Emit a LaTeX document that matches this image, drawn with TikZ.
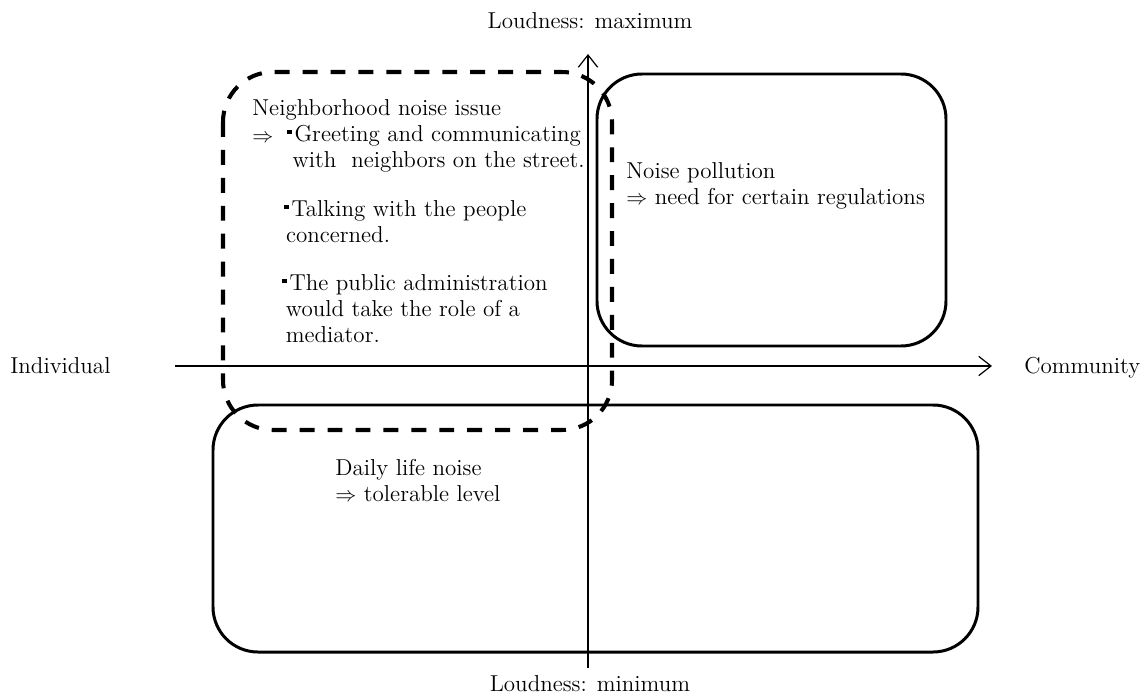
\documentclass[tikz,border=0pt]{standalone}
\usepackage{amssymb}
\usetikzlibrary{arrows.meta}
\newcommand{\sqdot}{\raisebox{0.3em}{\rule{2.6pt}{2.6pt}}\hspace{1.5pt}}
\begin{document}
\begin{tikzpicture}[x=0.02cm, y=-0.02cm,
    txt/.style={anchor=base west, inner sep=0pt, align=left, font=\fontsize{13.1}{14.8}\selectfont},
    axis/.style={line width=0.7pt, -{Straight Barb[length=7pt, width=11pt]}},
    area/.style={line width=1.7pt, rounded corners=0.9cm},
    issue/.style={line width=2.3pt, rounded corners=1cm, dash pattern=on 8.5pt off 7.4pt}]
    \useasboundingbox (0,0) rectangle (1144,697);
    % axes
    \coordinate (left) at (175,366);
    \coordinate (right) at (992,366);
    \coordinate (bottom) at (588,668);
    \coordinate (top) at (588,54);
    \draw[axis] (left) -- (right);
    \draw[axis] (bottom) -- (top);
    \node[txt] (indiv) at (10,373) {Individual};
    \node[txt] (comm) at (1024,373) {Community};
    \node[txt, anchor=base] (maxl) at (590,28) {Loudness: maximum};
    \node[txt, anchor=base] (minl) at (590,691) {Loudness: minimum};
    % regions
    \draw[area] (597,74) rectangle (946,346);
    \draw[area] (213,405) rectangle (978,652);
    \draw[issue] (223,72) rectangle (612,430);
    % texts (base = last line)
    \node[txt] (pollution) at (626,204) {Noise pollution\\$\Rightarrow$ need for certain regulations};
    \node[txt] (daily) at (335,501) {Daily life noise\\$\Rightarrow$ tolerable level};
    \node[txt] (nbh) at (252,115) {Neighborhood noise issue};
    \node[txt] (impl) at (252,142) {$\Rightarrow$};
    \node[txt] (greet) at (287,167) {\sqdot Greeting and communicating\\\hspace{3pt}with\ \ neighbors on the street.};
    \node[txt] (talk) at (284,242) {\sqdot Talking with the people\\\hspace{1pt}concerned.};
    \node[txt] (admin) at (282,342) {\sqdot The public administration\\\hspace{2pt}would take the role of a\\\hspace{2pt}mediator.};
\end{tikzpicture}
\end{document}
